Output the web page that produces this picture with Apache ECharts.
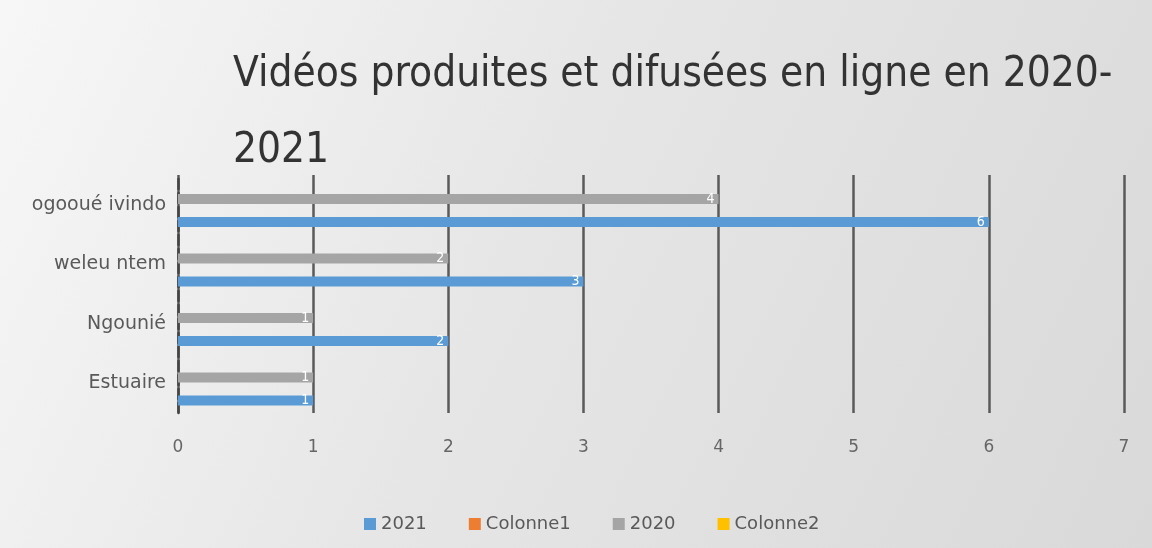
<!DOCTYPE html>
<html><head><meta charset="utf-8">
<script src="https://cdn.jsdelivr.net/npm/echarts@6/dist/echarts.min.js"></script>
<style>html,body{margin:0;padding:0;}#c{width:1152px;height:548px;}</style>
</head><body><div id="c"></div>
<script>
const categories = ['Estuaire', 'Ngounié', 'weleu ntem', 'ogooué ivindo'];
const values2021 = [1, 2, 3, 6];
const valuesColonne1 = [null, null, null, null];
const values2020 = [1, 1, 2, 4];
const valuesColonne2 = [null, null, null, null];
const xTicks = [0, 1, 2, 3, 4, 5, 6, 7];

const FONT = '"DejaVu Sans Condensed", sans-serif';
const WIDE = '"DejaVu Sans", sans-serif';
const chart = echarts.init(document.getElementById('c'));
const lbl = {show: true, position: 'insideRight', color: '#ffffff', fontSize: 14, fontFamily: FONT, distance: 4};
chart.setOption({
  backgroundColor: new echarts.graphic.LinearGradient(0, 0, 1, 1, [
    {offset: 0, color: '#f7f7f7'}, {offset: 0.45, color: '#e6e6e6'}, {offset: 1, color: '#d9d9d9'}
  ]),
  title: {
    text: 'Vidéos produites et difusées en ligne en 2020-\n2021',
    left: 228, top: 32,
    textStyle: {fontFamily: FONT, fontSize: 42, fontWeight: 'normal', color: '#333333', lineHeight: 76}
  },
  legend: {
    top: 510, left: 359,
    itemWidth: 12, itemHeight: 12, itemGap: 42,
    icon: 'rect',
    textStyle: {fontFamily: WIDE, fontSize: 18, color: '#595959'},
    data: ['2021', 'Colonne1', '2020', 'Colonne2']
  },
  grid: {left: 178, right: 28, top: 175, bottom: 135, containLabel: false},
  xAxis: {
    type: 'value', min: 0, max: 7, interval: 1,
    axisLine: {show: false}, axisTick: {show: false},
    splitLine: {show: true, lineStyle: {color: '#5a5a5a', width: 2.5}},
    axisLabel: {color: '#666', fontSize: 17, margin: 26, fontFamily: WIDE,
      formatter: v => xTicks.includes(v) ? String(v) : ''}
  },
  yAxis: {
    type: 'category', data: categories,
    axisLine: {show: true, lineStyle: {color: '#444', width: 2.5, type: [10, 4]}},
    axisTick: {show: false},
    axisLabel: {color: '#595959', fontSize: 19, margin: 12, fontFamily: WIDE}
  },
  series: [
    {name: 'Colonne2', type: 'bar', data: valuesColonne2, barWidth: 10, barGap: '15%', itemStyle: {color: '#ffc000'}},
    {name: '2020', type: 'bar', data: values2020, barWidth: 10, barGap: '15%', itemStyle: {color: '#a5a5a5'}, label: lbl},
    {name: 'Colonne1', type: 'bar', data: valuesColonne1, barWidth: 10, barGap: '15%', itemStyle: {color: '#ed7d31'}},
    {name: '2021', type: 'bar', data: values2021, barWidth: 10, barGap: '15%', itemStyle: {color: '#5b9bd5'}, label: lbl}
  ]
});
</script></body></html>
